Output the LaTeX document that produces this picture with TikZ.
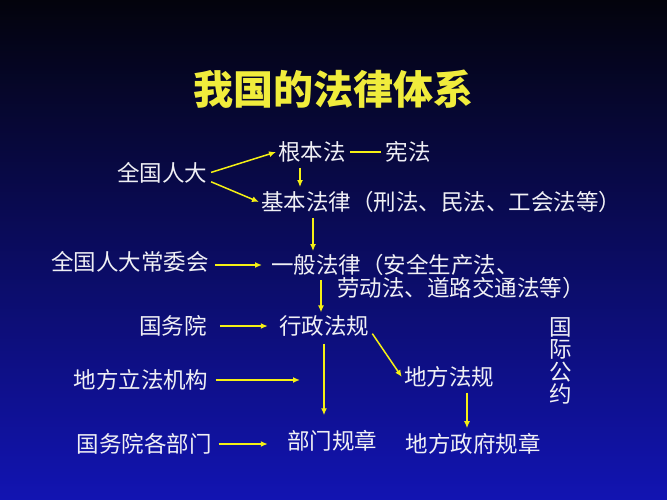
\documentclass[tikz,border=0pt]{standalone}
\usepackage{fontspec}
\setmainfont{Noto Sans CJK SC}
\usetikzlibrary{arrows.meta}
\definecolor{bgtop}{RGB}{3,3,12}
\definecolor{bgmid}{RGB}{20,18,115}
\definecolor{bgbot}{RGB}{18,20,178}
\definecolor{lawyellow}{RGB}{245,240,20}
\definecolor{titleyellow}{RGB}{240,236,60}
\definecolor{lawwhite}{RGB}{240,240,245}

\begin{document}
\begin{tikzpicture}[x=1pt,y=-1pt,
    law/.style={text=lawwhite,font=\fontsize{22.5}{22.5}\selectfont,inner sep=2pt},
    arr/.style={draw=lawyellow,line width=1.5pt,-{Latex[length=7pt,width=6pt]}}]
  \shade[top color=bgtop,middle color=bgmid,bottom color=bgbot] (0,0) rectangle (667,500);
  \useasboundingbox (0,0) rectangle (667,500);
  \node[text=titleyellow,font=\fontsize{40}{40}\selectfont\bfseries] (title) at (333,89) {我国的法律体系};
  \node[law] (qgrd) at (162,173) {全国人大};
  \node[law] (gbf) at (312,152) {根本法};
  \node[law] (xf) at (408,152) {宪法};
  \node[law,anchor=west] (jbfl) at (259,202) {基本法律（刑法、民法、工会法等）};
  \node[law] (cwh) at (130,262) {全国人大常委会};
  \node[law,anchor=west] (gen1) at (269,265) {一般法律（安全生产法、};
  \node[law,anchor=west] (gen2) at (335,288) {劳动法、道路交通法等）};
  \node[law] (gwy) at (173,326) {国务院};
  \node[law] (xzfg) at (324,326) {行政法规};
  \node[law] (dfljg) at (141,380) {地方立法机构};
  \node[law] (dffg) at (449,377) {地方法规};
  \node[law] (gwybm) at (144,444) {国务院各部门};
  \node[law] (bmgz) at (332,441) {部门规章};
  \node[law] (dfzfgz) at (473,444) {地方政府规章};
  \node[law,align=center] (gjgy) at (561,361) {国\\际\\公\\约};
  \coordinate (dfend) at (300,380);
  \draw[arr,shorten <=2pt] (qgrd.east) -- (gbf.west);
  \draw[arr,shorten <=2pt] ([yshift=-8pt]qgrd.east) -- (jbfl.west);
  \draw[draw=lawyellow,line width=1.5pt,shorten <=2pt,shorten >=2pt] (gbf.east) -- (xf.west);
  \draw[arr,shorten <=3pt,shorten >=2pt] ([xshift=-12pt]gbf.south) -- ([xshift=-12pt]gbf.south |- jbfl.north);
  \draw[arr,shorten <=3pt,shorten >=1pt] ([xshift=54pt]jbfl.south west) -- ([xshift=54pt]jbfl.south west |- gen1.north);
  \draw[arr,shorten <=4pt,shorten >=7pt] (cwh.east |- gen1.west) -- (gen1.west);
  \draw[arr,shorten <=2pt,shorten >=1pt] ([xshift=52pt]gen1.south west) -- ([xshift=52pt]gen1.south west |- xzfg.north);
  \draw[arr,shorten <=11pt,shorten >=9pt] (gwy.east) -- (xzfg.west);
  \draw[arr,shorten <=2pt] ([yshift=-6pt]xzfg.east) -- (dffg.west);
  \draw[arr,shorten <=5pt] (dfljg.east) -- (dfend);
  \draw[arr,shorten <=5pt,shorten >=13pt] (xzfg.south) -- (xzfg.south |- bmgz.north);
  \draw[arr,shorten <=3pt,shorten >=3pt] ([xshift=18pt]dffg.south) -- ([xshift=18pt]dffg.south |- dfzfgz.north);
  \draw[arr,shorten <=5pt,shorten >=17pt] (gwybm.east) -- (gwybm.east -| bmgz.west);
\end{tikzpicture}
\end{document}
